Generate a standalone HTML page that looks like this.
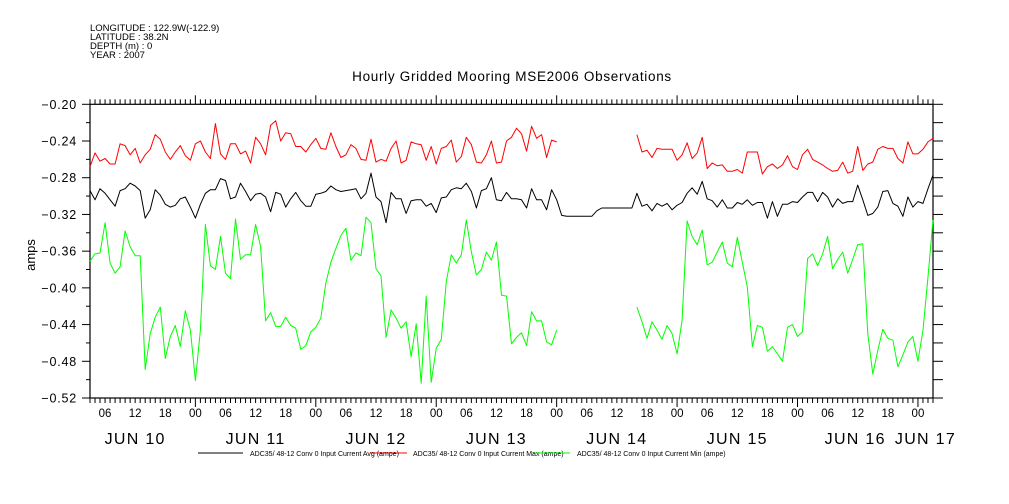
<!DOCTYPE html>
<html><head><meta charset="utf-8"><style>
html,body{margin:0;padding:0;background:#fff;}
svg{display:block;font-family:"Liberation Sans",sans-serif;}
</style></head><body>
<svg id="chart" width="1009" height="504" viewBox="0 0 1009 504" xmlns="http://www.w3.org/2000/svg">
<rect width="1009" height="504" fill="#fff"/>
<g font-size="9.5" fill="#000">
<text x="90" y="31">LONGITUDE : 122.9W(-122.9)</text>
<text x="90" y="40">LATITUDE : 38.2N</text>
<text x="90" y="49">DEPTH (m) : 0</text>
<text x="90" y="58">YEAR : 2007</text>
</g>
<text x="512" y="81" text-anchor="middle" font-size="13.5" letter-spacing="0.7">Hourly Gridded Mooring MSE2006 Observations</text>
<text transform="translate(35,255) rotate(-90)" text-anchor="middle" font-size="13">amps</text>
<g id="axes"></g>
<g id="series"></g>
<g font-size="7">
<line x1="198" y1="453" x2="243" y2="453" stroke="#000"/>
<text x="250" y="456">ADC35/ 48-12 Conv 0 Input Current Avg (ampe)</text>
<line x1="370" y1="453" x2="407" y2="453" stroke="#f00"/>
<text x="413" y="456">ADC35/ 48-12 Conv 0 Input Current Max (ampe)</text>
<line x1="533" y1="453" x2="570" y2="453" stroke="#0f0"/>
<text x="577" y="456">ADC35/ 48-12 Conv 0 Input Current Min (ampe)</text>
</g>
</svg>
<script>
const hourStart = 0, hourEnd = 168;
const yTicks = [-0.20,-0.24,-0.28,-0.32,-0.36,-0.40,-0.44,-0.48,-0.52];
const yTickLabels = ["-0.20","-0.24","-0.28","-0.32","-0.36","-0.40","-0.44","-0.48","-0.52"];
const dayLabels = ["JUN 10","JUN 11","JUN 12","JUN 13","JUN 14","JUN 15","JUN 16","JUN 17"];
const dayLabelHours = [9,33,57,81,105,129,152.5,166.5];
const hourLabels = ["06","12","18","00"];
const maxValues = [-0.268,-0.253,-0.262,-0.259,-0.265,-0.265,-0.243,-0.245,-0.255,-0.248,-0.264,-0.255,-0.249,-0.233,-0.238,-0.252,-0.260,-0.252,-0.245,-0.256,-0.261,-0.243,-0.240,-0.252,-0.259,-0.221,-0.254,-0.260,-0.243,-0.243,-0.254,-0.251,-0.264,-0.236,-0.243,-0.255,-0.223,-0.218,-0.240,-0.231,-0.232,-0.246,
-0.246,-0.252,-0.244,-0.237,-0.248,-0.249,-0.231,-0.246,-0.258,-0.255,-0.244,-0.248,-0.260,-0.261,-0.238,-0.263,-0.260,-0.262,-0.248,-0.240,-0.264,-0.261,-0.241,-0.243,-0.244,-0.261,-0.246,-0.265,-0.248,-0.246,-0.239,-0.263,-0.257,-0.236,-0.244,-0.263,-0.264,-0.255,-0.240,-0.264,-0.263,-0.240,-0.236,
-0.226,-0.232,-0.251,-0.224,-0.237,-0.233,-0.258,-0.239,-0.241,
null,null,null,null,null,null,null,null,null,null,null,null,null,null,null,
-0.233,-0.252,-0.250,-0.258,-0.248,-0.249,-0.249,-0.249,-0.261,-0.255,-0.242,-0.259,-0.253,-0.236,-0.270,-0.264,-0.267,-0.266,
-0.273,-0.273,-0.271,-0.275,-0.252,-0.252,-0.252,-0.276,-0.268,-0.265,-0.270,-0.266,-0.256,-0.268,-0.271,-0.255,-0.249,-0.260,-0.263,-0.266,-0.270,-0.273,-0.272,-0.263,-0.275,-0.273,-0.246,-0.272,-0.265,-0.263,-0.249,-0.246,-0.248,-0.248,-0.259,-0.264,-0.241,-0.254,-0.254,-0.249,-0.241,-0.237];
const avgValues = [-0.294,-0.304,-0.292,-0.297,-0.304,-0.311,-0.294,-0.292,-0.286,-0.289,-0.294,-0.324,-0.315,-0.293,-0.299,-0.309,-0.312,-0.310,-0.303,-0.301,-0.312,-0.324,-0.309,-0.297,-0.293,-0.293,-0.281,-0.283,-0.303,-0.301,-0.286,-0.295,-0.305,-0.298,-0.297,-0.301,-0.317,-0.296,-0.298,-0.312,-0.303,-0.296,-0.305,
-0.311,-0.311,-0.298,-0.297,-0.295,-0.289,-0.293,-0.295,-0.294,-0.293,-0.292,-0.303,-0.297,-0.275,-0.301,-0.306,-0.329,-0.296,-0.303,-0.303,-0.319,-0.305,-0.304,-0.304,-0.311,-0.308,-0.318,-0.302,-0.301,-0.293,-0.291,-0.292,-0.286,-0.295,-0.313,-0.294,-0.292,-0.280,-0.304,-0.305,-0.296,-0.303,
-0.303,-0.304,-0.313,-0.292,-0.304,-0.304,-0.315,-0.293,-0.304,-0.321,-0.322,-0.322,-0.322,-0.322,-0.322,-0.322,-0.316,-0.313,-0.313,-0.313,-0.313,-0.313,-0.313,-0.313,
-0.297,-0.311,-0.309,-0.316,-0.308,-0.311,-0.308,-0.315,-0.310,-0.307,-0.297,-0.291,-0.298,-0.284,-0.303,-0.305,-0.312,-0.304,
-0.313,-0.313,-0.307,-0.309,-0.304,-0.310,-0.307,-0.307,-0.324,-0.306,-0.322,-0.309,-0.309,-0.306,-0.307,-0.301,-0.296,-0.296,-0.306,-0.296,-0.301,-0.312,-0.303,-0.308,-0.306,-0.306,-0.288,-0.304,-0.321,-0.319,-0.312,-0.295,-0.294,-0.308,-0.311,-0.322,-0.301,-0.312,-0.306,-0.308,-0.292,-0.277];
const minValues = [-0.371,-0.363,-0.362,-0.329,-0.373,-0.384,-0.377,-0.338,-0.355,-0.365,-0.365,-0.489,-0.450,-0.432,-0.421,-0.477,-0.453,-0.441,-0.464,-0.425,-0.446,-0.501,-0.446,-0.331,-0.376,-0.380,-0.344,-0.384,-0.390,-0.325,-0.369,-0.364,-0.364,-0.331,-0.355,-0.436,-0.427,-0.442,-0.442,-0.432,-0.441,-0.444,-0.467,
-0.463,-0.448,-0.443,-0.433,-0.395,-0.372,-0.357,-0.343,-0.335,-0.370,-0.362,-0.365,-0.323,-0.329,-0.379,-0.387,-0.454,-0.424,-0.433,-0.444,-0.437,-0.475,-0.439,-0.504,-0.409,-0.503,-0.466,-0.456,-0.393,-0.364,-0.373,-0.364,-0.326,-0.361,-0.386,-0.380,-0.361,-0.370,-0.350,-0.408,-0.409,-0.461,
-0.454,-0.449,-0.463,-0.426,-0.436,-0.436,-0.459,-0.462,-0.446,
null,null,null,null,null,null,null,null,null,null,null,null,null,null,null,
-0.421,-0.437,-0.455,-0.437,-0.446,-0.456,-0.441,-0.450,-0.472,-0.435,-0.327,-0.344,-0.353,-0.337,-0.375,-0.372,-0.361,-0.350,
-0.373,-0.377,-0.345,-0.372,-0.399,-0.464,-0.441,-0.443,-0.469,-0.464,-0.472,-0.480,-0.443,-0.440,-0.453,-0.448,-0.368,-0.363,-0.376,-0.363,-0.344,-0.379,-0.369,-0.361,-0.384,-0.369,-0.353,-0.352,-0.450,-0.494,-0.468,-0.445,-0.455,-0.457,-0.486,-0.473,-0.459,-0.453,-0.480,-0.446,-0.388,-0.326];

const L=90, R=933, T=104.3, B=398, yMax=-0.20, yMin=-0.52;
const xs = h => L + (h-hourStart)/(hourEnd-hourStart)*(R-L);
const ys = v => T + (yMax-v)/(yMax-yMin)*(B-T);
const NS="http://www.w3.org/2000/svg";
function mk(tag, attrs, parent){const e=document.createElementNS(NS,tag);for(const k in attrs)e.setAttribute(k,attrs[k]);parent.appendChild(e);return e;}
const axes=document.getElementById('axes');
const frame=mk('rect',{x:L,y:T,width:R-L,height:B-T,fill:'none',stroke:'#000','stroke-width':1.2},axes);


for(let i=0;i<yTicks.length;i++){
  const y=ys(yTicks[i]);
  const tl=mk('line',{x1:L-8,y1:y,x2:L,y2:y,stroke:'#000'},axes);
  
  
  const tr=mk('line',{x1:R,y1:y,x2:R+10,y2:y,stroke:'#000'},axes);
  
  
  const t=mk('text',{x:L-13,y:y+4.5,'text-anchor':'end','font-size':12.5,'letter-spacing':0.8},axes);
  t.textContent=yTickLabels[i].replace('-','\u2212');
  
  
  if(i<yTicks.length-1){
    const ym=ys(yTicks[i]-0.02);
    const m1=mk('line',{x1:L-4,y1:ym,x2:L,y2:ym,stroke:'#000'},axes);
    
    
    const m2=mk('line',{x1:R,y1:ym,x2:R+10,y2:ym,stroke:'#000'},axes);
    
    
  }
}
for(let h=hourStart;h<=hourEnd;h++){
  const x=xs(h), clock=(h+3)%24, major=clock===0;
  const len=major?9:5;
  const tb=mk('line',{x1:x,y1:B,x2:x,y2:B+len,stroke:'#000'},axes);
  
  
  const tt=mk('line',{x1:x,y1:T-len,x2:x,y2:T,stroke:'#000'},axes);
  
  
  if(clock%6===0 && h>0 && h<hourEnd){
    const t=mk('text',{x:x,y:417,'text-anchor':'middle','font-size':11.5},axes);
    t.textContent=hourLabels[clock/6===0?3:clock/6-1];
    
    
  }
}
for(let i=0;i<dayLabels.length;i++){
  const t=mk('text',{x:xs(dayLabelHours[i]),y:444,'text-anchor':'middle','font-size':16,'letter-spacing':1.3},axes);
  t.textContent=dayLabels[i];
  
  
}
const sg=document.getElementById('series');
function draw(vals,color,name){
  let d='',pen=false;
  for(let i=0;i<vals.length;i++){
    if(vals[i]===null){pen=false;continue;}
    d+=(pen?'L':'M')+xs(hourStart+i).toFixed(1)+' '+ys(vals[i]).toFixed(1);
    pen=true;
  }
  const p=mk('path',{d:d,fill:'none',stroke:color,'stroke-width':1,'stroke-linejoin':'round'},sg);
  
  
}
draw(maxValues,'#ff0000','max-current-line');
draw(avgValues,'#000000','avg-current-line');
draw(minValues,'#00ff00','min-current-line');
</script>
</body></html>
